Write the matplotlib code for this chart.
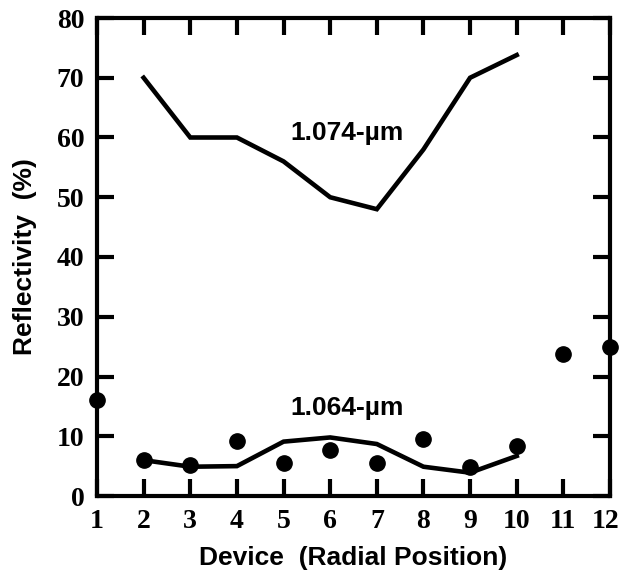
import matplotlib
matplotlib.use('Agg')
import matplotlib.pyplot as plt
import matplotlib.transforms as mtransforms

# device numbers (radial position)
devices = [1, 2, 3, 4, 5, 6, 7, 8, 9, 10, 11, 12]

# reflectivity curve at 1.074 um, devices 2-10
x_1074 = [2, 3, 4, 5, 6, 7, 8, 9, 10]
r_1074 = [70, 60, 60, 56, 50, 48, 58, 70, 73.8]

# reflectivity curve at 1.064 um, devices 2-10
x_1064 = [2, 3, 4, 5, 6, 7, 8, 9, 10]
r_1064 = [6.0, 4.9, 5.0, 9.1, 9.8, 8.7, 4.9, 3.9, 6.7]

# measured points
r_meas = [16.0, 6.0, 5.2, 9.2, 5.5, 7.7, 5.5, 9.5, 4.8, 8.4, 23.8, 25.0]

fig = plt.figure(figsize=(6.22, 5.75), dpi=100)
ax = fig.add_axes([97 / 622, 79 / 575, 513 / 622, 478 / 575])

ax.plot(x_1074, r_1074, color='black', lw=3.3, solid_joinstyle='miter')
ax.plot(x_1064, r_1064, color='black', lw=3.3, solid_joinstyle='miter')
ax.plot(devices, r_meas, 'o', color='black', markersize=11, clip_on=False, zorder=5)

ax.text(5.14, 60.8, '1.074-µm', fontsize=19, fontweight='bold',
        family='Liberation Sans', ha='left', va='center')
ax.text(5.14, 14.7, '1.064-µm', fontsize=19, fontweight='bold',
        family='Liberation Sans', ha='left', va='center')

ax.set_xlim(1, 12)
ax.set_ylim(0, 80)
ax.set_xticks(devices)
ax.set_yticks(range(0, 81, 10))
ax.tick_params(direction='in', length=12, width=3, top=True, right=True,
               pad=9, labelsize=20)
for lab in ax.get_xticklabels() + ax.get_yticklabels():
    lab.set_family('Liberation Serif')
    lab.set_fontweight('bold')
# pull the last x label in a little so it stays inside the figure
last = ax.get_xticklabels()[-1]
last.set_transform(last.get_transform() +
                   mtransforms.ScaledTranslation(-4 / 100, 0, fig.dpi_scale_trans))
for s in ax.spines.values():
    s.set_linewidth(3)

ax.set_xlabel('Device  (Radial Position)', fontsize=19, fontweight='bold',
              family='Liberation Sans', labelpad=9)
ax.set_ylabel('Reflectivity  (%)', fontsize=19, fontweight='bold',
              family='Liberation Sans', labelpad=14)

plt.savefig('out.png', dpi=100)
